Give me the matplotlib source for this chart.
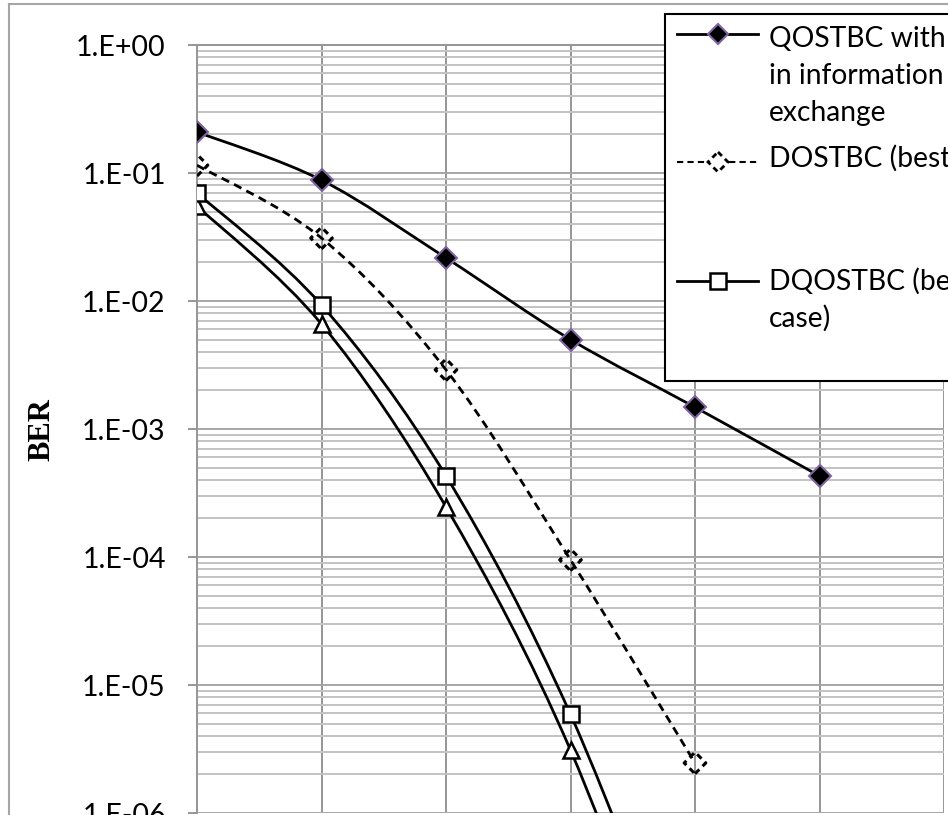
import numpy as np
import matplotlib
matplotlib.use('Agg')
from matplotlib import pyplot as plt
from matplotlib.path import Path
from matplotlib.patches import PathPatch, Rectangle, Polygon
from matplotlib.lines import Line2D
from matplotlib.ticker import FuncFormatter

# BER vs SNR curves
snr = [0, 5, 10, 15, 20, 25]
ber_qostbc_delay = [0.209, 0.088, 0.0217, 0.005, 0.00148, 0.00043]
ber_dostbc = [0.115, 0.031, 0.0029, 9.5e-05, 2.46e-06]
ber_dqostbc = [0.0698, 0.0093, 0.00043, 5.9e-06, 2e-08]
ber_fourth = [0.0552, 0.0066, 0.000246, 3.1e-06, 8e-09]

legend_labels = [['QOSTBC with delay', 'in information', 'exchange'],
                 ['DOSTBC (best case)'],
                 ['DQOSTBC (best', 'case)']]

W, H = 948, 815


def fx(x):
    return x / W


def fy(y):
    return 1 - y / H


def smooth_path(x, y):
    # Excel-like smoothed line: Catmull-Rom bezier in (x, log10 y) space
    lx = np.asarray(x, float)
    ly = np.log10(np.asarray(y, float))
    pts = np.column_stack([lx, ly])
    n = len(pts)
    verts = [pts[0]]
    codes = [Path.MOVETO]
    for i in range(n - 1):
        p0 = pts[max(i - 1, 0)]
        p1 = pts[i]
        p2 = pts[i + 1]
        p3 = pts[min(i + 2, n - 1)]
        c1 = p1 + (p2 - p0) / 6
        c2 = p2 - (p3 - p1) / 6
        verts += [c1, c2, p2]
        codes += [Path.CURVE4] * 3
    verts = np.array(verts)
    verts[:, 1] = 10 ** verts[:, 1]
    return Path(verts, codes)


fig = plt.figure(figsize=(9.48, 8.15), dpi=100)
ax = fig.add_axes([fx(197), fy(813), fx(944) - fx(197), fy(45) - fy(813)])
ax.set_yscale('log')

lw = 2.0
purple = '#7e64a0'

# QOSTBC with delay
ax.add_patch(PathPatch(smooth_path(snr, ber_qostbc_delay), transform=ax.transData,
                       fill=False, ec='black', lw=lw, zorder=3))
ax.plot(snr, ber_qostbc_delay, ls='none', marker='D', ms=11, mfc='black',
        mec=purple, mew=1.5, zorder=5)

# DOSTBC
ax.add_patch(PathPatch(smooth_path(snr[:5], ber_dostbc), transform=ax.transData,
                       fill=False, ec='black', lw=lw, ls=(0, (3, 2)), zorder=3))
ax.scatter(snr[:5], ber_dostbc, marker='D', s=11 ** 2, facecolors='none',
           edgecolors='black', linewidths=2.2, linestyles=(0, (2, 1.5)), zorder=5)

# DQOSTBC
ax.add_patch(PathPatch(smooth_path(snr[:5], ber_dqostbc), transform=ax.transData,
                       fill=False, ec='black', lw=lw, zorder=3))
ax.plot(snr[:5], ber_dqostbc, ls='none', marker='s', ms=12, mfc='white',
        mec='black', mew=1.8, zorder=5)

# fourth curve (triangles)
ax.add_patch(PathPatch(smooth_path(snr[:5], ber_fourth), transform=ax.transData,
                       fill=False, ec='black', lw=lw, zorder=3))
ax.plot(snr[:5], ber_fourth, ls='none', marker='^', ms=12, mfc='white',
        mec='black', mew=1.8, zorder=4)

ax.set_xlim(0, 30)
ax.set_ylim(1e-6, 1)
ax.set_xticks(range(0, 31, 5))
ax.set_yticks([10.0 ** -k for k in range(0, 7)])
ax.set_yticks([m * 10.0 ** -k for k in range(1, 7) for m in range(2, 10)], minor=True)
ax.yaxis.set_major_formatter(FuncFormatter(lambda v, p: '1.E%+03d' % int(round(np.log10(v)))))
ax.yaxis.set_minor_formatter(FuncFormatter(lambda v, p: ''))

ax.grid(which='major', axis='x', color='#969696', lw=1.4)
ax.grid(which='major', axis='y', color='#a6a6a6', lw=1.4)
ax.grid(which='minor', axis='y', color='#c3c3c3', lw=1.4)
ax.set_axisbelow(True)
ax.tick_params(axis='x', length=0, labelbottom=False)
ax.tick_params(axis='y', which='major', direction='out', length=6.5, width=1.4,
               color='#969696', pad=16, labelsize=20.5)
ax.tick_params(axis='y', which='minor', length=0)
for t in ax.get_yticklabels():
    t.set_fontfamily('Lato')
for s in ['left', 'top']:
    ax.spines[s].set_color('#969696')
    ax.spines[s].set_linewidth(1.4)
for s in ['right', 'bottom']:
    ax.spines[s].set_visible(False)

fig.text(fx(42), fy(430), 'BER', rotation=90, ha='center', va='center',
         family='Liberation Serif', weight='bold', fontsize=22)

# outer chart border
fig.add_artist(Line2D([fx(9), fx(9)], [0, fy(4)], color='#a6a6a6', lw=1.5))
fig.add_artist(Line2D([fx(9), 1.0], [fy(4), fy(4)], color='#a6a6a6', lw=1.5))

# legend box (cut off at right edge like the reference)
fig.add_artist(Rectangle((fx(665), fy(381)), 0.5, fy(14) - fy(381),
                         transform=fig.transFigure, fc='white', ec='black',
                         lw=1.5, zorder=10))

tx = fx(769)
lx0, lx1, mx = fx(677), fx(758), fx(718)
line_step = 37


def legend_text(lines, first_baseline):
    for i, s in enumerate(lines):
        fig.text(tx, fy(first_baseline + i * line_step), s, va='baseline', ha='left',
                 family='Lato', fontsize=20.3, zorder=12)


# entry 1
fig.add_artist(Line2D([lx0, lx1], [fy(34), fy(34)], color='black', lw=lw, zorder=11))
fig.add_artist(Line2D([mx], [fy(34)], ls='none', marker='D', ms=10.5, mfc='black',
                      mec=purple, mew=1.5, zorder=12))
legend_text(legend_labels[0], 47)

# entry 2
fig.add_artist(Line2D([lx0, lx1], [fy(162), fy(162)], color='black', lw=1.5,
                      ls=(0, (3, 2)), zorder=11))
d = 10
fig.add_artist(Polygon([(mx, fy(162 - d)), (fx(718 + d), fy(162)), (mx, fy(162 + d)),
                        (fx(718 - d), fy(162))], closed=True, transform=fig.transFigure,
                       fc='white', ec='black', lw=2, ls=(0, (2, 1.5)), zorder=12))
legend_text(legend_labels[1], 167)

# entry 3
fig.add_artist(Line2D([lx0, lx1], [fy(281), fy(281)], color='black', lw=lw, zorder=11))
fig.add_artist(Line2D([mx], [fy(281)], ls='none', marker='s', ms=12, mfc='white',
                      mec='black', mew=1.8, zorder=12))
legend_text(legend_labels[2], 290)

plt.savefig('out.png', dpi=100)
